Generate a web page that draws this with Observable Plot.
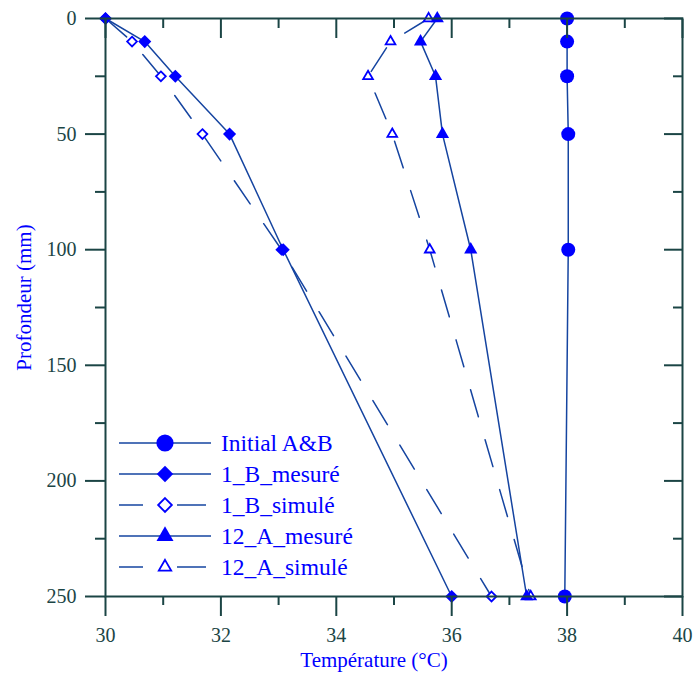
<!DOCTYPE html>
<html><head><meta charset="utf-8">
<script src="https://cdn.jsdelivr.net/npm/d3@7"></script>
<script src="https://cdn.jsdelivr.net/npm/@observablehq/plot@0.6"></script>
<style>body{margin:0;background:#fff} #wrap{position:relative;width:694px;height:673px}</style>
</head><body><div id="wrap"></div>
<script>
// ---- data ----
const depths = [0, 10, 25, 50, 100, 250];
const initialAB = [38.0, 38.0, 38.0, 38.02, 38.02, 37.96];
const b1Mesure = [30.0, 30.68, 31.21, 32.15, 33.08, 36.0];
const b1Simule = [30.0, 30.46, 30.96, 31.68, 33.05, 36.69];
const a12Mesure = [35.75, 35.46, 35.72, 35.84, 36.33, 37.30];
const a12Simule = [35.60, 34.94, 34.55, 34.97, 35.62, 37.37];
const seriesNames = ["Initial A&B", "1_B_mesuré", "1_B_simulé", "12_A_mesuré", "12_A_simulé"];
const seriesValues = [initialAB, b1Mesure, b1Simule, a12Mesure, a12Simule];
const xTicksMajor = [30, 32, 34, 36, 38, 40];
const xTicksMinor = [31, 33, 35, 37, 39];
const yTicksMajor = [0, 50, 100, 150, 200, 250];
const yTicksMinor = [25, 75, 125, 175, 225];
const xLabel = "Température (°C)";
const yLabel = "Profondeur (mm)";

// ---- styles ----
const axisColor = "#1b4545";
const lineColor = "#1544a0";
const markColor = "#0000ff";
const dash = "28,24";
const styles = [
  {symbol: "circle",   filled: true,  dashed: false, r: 7,   lr: 8.6},
  {symbol: "diamond2", filled: true,  dashed: false, r: 5.9, lr: 7.4},
  {symbol: "diamond2", filled: false, dashed: true,  r: 4.4, lr: 6.2},
  {symbol: "triangle", filled: true,  dashed: false, r: 4.9, lr: 6.3},
  {symbol: "triangle", filled: false, dashed: true,  r: 3.6, lr: 4.6}
];
const series = seriesNames.map((name, i) => ({name, ...styles[i],
  rows: depths.map((d, j) => ({series: name, depth: d, temp: seriesValues[i][j]}))}));

const marks = [];
for (const s of series) {
  marks.push(Plot.line(s.rows, {x: "temp", y: "depth", stroke: lineColor, strokeWidth: 1.5,
    strokeDasharray: s.dashed ? dash : null}));
}
// draw open markers first, then filled ones
const drawOrder = [2, 4, 1, 3, 0];
for (const i of drawOrder) {
  const s = series[i];
  marks.push(Plot.dot(s.rows, {x: "temp", y: "depth", symbol: s.symbol, r: s.r,
    fill: s.filled ? markColor : "white", stroke: s.filled ? "none" : markColor, strokeWidth: 1.8}));
}
marks.push(
  Plot.frame({stroke: axisColor, strokeWidth: 2}),
  Plot.axisY(yTicksMajor, {anchor: "left", tickSize: 20, tickPadding: 9, strokeWidth: 2, fontSize: 20, label: null}),
  Plot.axisY(yTicksMinor, {anchor: "left", tickSize: 10, strokeWidth: 2, fill: "none", label: null}),
  Plot.axisY(yTicksMajor, {anchor: "right", tickSize: 19, insetRight: 19, strokeWidth: 2, fill: "none", label: null}),
  Plot.axisY(yTicksMinor, {anchor: "right", tickSize: 10, insetRight: 10, strokeWidth: 2, fill: "none", label: null}),
  Plot.axisX(xTicksMajor, {anchor: "bottom", tickSize: 20, tickPadding: 11, strokeWidth: 2, fontSize: 20, label: null}),
  Plot.axisX(xTicksMinor, {anchor: "bottom", tickSize: 9, strokeWidth: 2, fill: "none", label: null}),
  Plot.axisX(xTicksMajor, {anchor: "top", tickSize: 19, insetTop: 19, strokeWidth: 2, fill: "none", label: null}),
  Plot.axisX(xTicksMinor, {anchor: "top", tickSize: 9, insetTop: 9, strokeWidth: 2, fill: "none", label: null}),
  Plot.text([xLabel], {frameAnchor: "bottom", dx: -20, dy: 64, lineAnchor: "middle", textAnchor: "middle", fill: markColor, fontSize: 21}),
  Plot.text([yLabel], {frameAnchor: "left", dx: -81, dy: -10, rotate: -90, textAnchor: "middle", lineAnchor: "middle", fill: markColor, fontSize: 21})
);

const chart = Plot.plot({
  width: 694, height: 673,
  marginLeft: 105, marginRight: 12, marginTop: 18, marginBottom: 77,
  x: {domain: [30, 40]},
  y: {domain: [0, 250], reverse: true},
  style: {fontFamily: "'Liberation Serif', 'Times New Roman', serif", fontSize: "20px", color: axisColor, background: "white"},
  marks
});
const wrap = document.getElementById("wrap");
wrap.appendChild(chart);

// ---- legend overlay ----
const leg = d3.select(wrap).append("svg")
  .attr("width", 694).attr("height", 673)
  .style("position", "absolute").style("left", "0px").style("top", "0px").style("pointer-events", "none")
  .style("font-family", "'Liberation Serif', 'Times New Roman', serif");
const symMap = {circle: d3.symbolCircle, diamond2: d3.symbolDiamond2, triangle: d3.symbolTriangle};
series.forEach((s, i) => {
  const y = 443 + i * 31;
  const g = leg.append("g").attr("transform", `translate(0,${y})`);
  if (s.dashed) {
    g.append("line").attr("x1", 119).attr("x2", 143).attr("stroke", lineColor).attr("stroke-width", 1.5);
    g.append("line").attr("x1", 177).attr("x2", 206).attr("stroke", lineColor).attr("stroke-width", 1.5);
  } else {
    g.append("line").attr("x1", 119).attr("x2", 211).attr("stroke", lineColor).attr("stroke-width", 1.5);
  }
  g.append("path").attr("transform", "translate(165,0)")
    .attr("d", d3.symbol(symMap[s.symbol], Math.PI * s.lr * s.lr)())
    .attr("fill", s.filled ? markColor : "white")
    .attr("stroke", s.filled ? "none" : markColor).attr("stroke-width", 1.8);
  g.append("text").attr("x", 221).attr("dy", "0.33em").attr("font-size", 23.5).attr("fill", markColor).text(s.name);
});
</script></body></html>
